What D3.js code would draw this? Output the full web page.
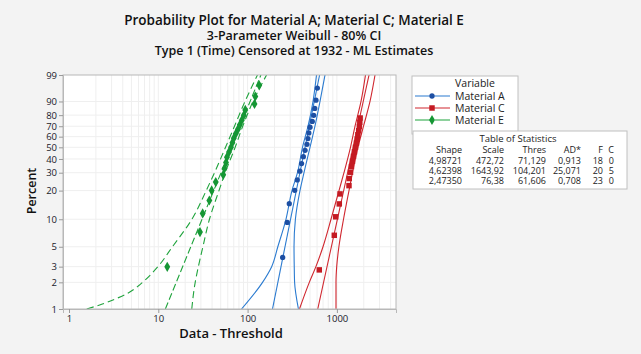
<!DOCTYPE html>
<html><head><meta charset="utf-8">
<script src="https://cdn.jsdelivr.net/npm/d3@7"></script>
<style>
html,body{margin:0;padding:0;background:#f3f3f3;}
svg{display:block;font-family:"Open Sans","Noto Sans",sans-serif;}
</style></head>
<body><svg id="c" width="641" height="354"></svg>
<script>
// ---------- data ----------
const titleLines = ["Probability Plot for Material A; Material C; Material E",
  "3-Parameter Weibull - 80% CI",
  "Type 1 (Time) Censored at 1932 - ML Estimates"];
const seriesNames = ["Material A", "Material C", "Material E"];
const yTicks = [1, 2, 3, 5, 10, 20, 30, 40, 50, 60, 70, 80, 90, 99];
const xTicks = [1, 10, 100, 1000];

// points: data - threshold, plotted percent
const aValues = [247, 278, 293, 337, 360, 385, 402, 421, 440, 462, 474, 485, 500, 530, 550, 565, 583, 604];
const aPercent = [3.80, 9.24, 14.67, 20.11, 25.54, 30.98, 36.41, 41.85, 47.28, 52.72, 58.15, 63.59, 69.02, 74.46, 79.89, 85.33, 90.76, 96.20];
const cValues = [635, 935, 970, 1064, 1084, 1366, 1375, 1420, 1456, 1494, 1533, 1573, 1614, 1656, 1690, 1718, 1754, 1784, 1805, 1822];
const cPercent = [2.76, 6.69, 10.63, 14.57, 18.50, 22.44, 26.38, 30.31, 34.25, 38.19, 42.13, 46.06, 50.00, 53.94, 57.87, 61.81, 65.75, 69.69, 73.62, 77.56];
const eValues = [12.6, 29.3, 31.4, 37.3, 39.6, 44.0, 53.4, 55.1, 57.3, 58.7, 61.9, 65.2, 67.6, 70.1, 73.7, 77.9, 81.9, 86.1, 90.7, 94.2, 119.5, 122, 135];
const ePercent = [2.99, 7.26, 11.54, 15.81, 20.09, 24.36, 28.63, 32.91, 37.18, 41.45, 45.73, 50.00, 54.27, 58.55, 62.82, 67.09, 71.37, 75.64, 79.91, 84.19, 88.46, 92.74, 97.01];

// fitted lines (percent, value) endpoints
const aFitPercent = [1, 99], aFitValues = [190, 640];
const cFitPercent = [1, 99], cFitValues = [610, 2290];
const eFitPercent = [1, 99], eFitValues = [12.0, 141];

// confidence bounds (percent levels, values)
const ciPercent = [1, 2, 3, 5, 10, 20, 30, 50, 70, 90, 99];
const aLower = [85.5, 147, 186, 218, 269, 314, 362, 412, 475, 540, 591];
const aUpper = [371, 336, 333, 331, 343, 386, 428, 500, 568, 647, 736];
const cLower = [381, 491, 582, 699, 859, 1056, 1200, 1420, 1596, 1862, 2090];
const cUpper = [977, 977, 995, 1053, 1186, 1366, 1495, 1722, 1986, 2348, 2672];
const eLowerPercent = [1, 1.13, 1.25, 1.52, 1.82, 2, 3, 5, 10, 20, 30, 50, 70, 90, 99];
const eLower = [1.58, 2.32, 3.01, 4.61, 5.97, 6.67, 9.9, 14.4, 23.8, 34.4, 42.6, 56.6, 71.3, 93.5, 129];
const eUpper = [23.7, 25.9, 28.1, 31.6, 37.4, 47.8, 56.1, 72.6, 88.2, 115, 163];

// statistics table
const statHeaders = ["Shape", "Scale", "Thres", "AD*", "F", "C"];
const statRows = [
  ["4,98721", "472,72", "71,129", "0,913", "18", "0"],
  ["4,62398", "1643,92", "104,201", "25,071", "20", "5"],
  ["2,47350", "76,38", "61,606", "0,708", "23", "0"]];

// ---------- styles ----------
const colors = {A: "#2b7bd0", C: "#d0272f", E: "#1fa33c"};
const markColors = {A: "#1d4fa3", C: "#c41a22", E: "#159634"};

const svg = d3.select("#c");
const L = 63, R = 396, T = 75, B = 309;

const tf = p => Math.log(-Math.log(1 - p / 100));
const x = d3.scaleLog().domain([0.857, 4590]).range([L, R]);
const yl = d3.scaleLinear().domain([tf(1), tf(99)]).range([B, T]);
const y = p => yl(tf(p));

// plot background
svg.append("rect").attr("x", L).attr("y", T).attr("width", R - L).attr("height", B - T).attr("fill", "#fff");

// grid
const g = svg.append("g");
const minor = [];
[1, 10, 100, 1000].forEach(d => { for (let k = 1; k <= 9; k++) { const v = d * k; if (v > 1 && v < 4590) minor.push(v); } });
g.selectAll(".vg").data(minor).enter().append("line")
  .attr("x1", d => x(d)).attr("x2", d => x(d)).attr("y1", T).attr("y2", B)
  .attr("stroke", "#efefef").attr("stroke-width", 1);
g.selectAll(".hg").data(yTicks.slice(1, -1)).enter().append("line")
  .attr("x1", L).attr("x2", R).attr("y1", d => y(d)).attr("y2", d => y(d))
  .attr("stroke", "#efefef").attr("stroke-width", 1);

// clip
svg.append("clipPath").attr("id", "clp").append("rect").attr("x", L).attr("y", T).attr("width", R - L).attr("height", B - T);
const pg = svg.append("g").attr("clip-path", "url(#clp)");

const line = d3.line().x(d => x(d[1])).y(d => y(d[0])).curve(d3.curveMonotoneY);
const zip = (a, b) => a.map((v, i) => [v, b[i]]);

function drawSeries(key, fitP, fitV, lowP, low, upP, up, dash) {
  [[zip(fitP, fitV), dash ? "7,3" : null], [zip(lowP, low), dash ? "7,4" : null], [zip(upP, up), dash ? "7,4" : null]].forEach(([d, da]) => {
    const p = pg.append("path").attr("d", line(d)).attr("stroke", colors[key]).attr("fill", "none").attr("stroke-width", 1.1);
    if (da) p.attr("stroke-dasharray", da);
  });
}
drawSeries("A", aFitPercent, aFitValues, ciPercent, aLower, ciPercent, aUpper, false);
drawSeries("C", cFitPercent, cFitValues, ciPercent, cLower, ciPercent, cUpper, false);
drawSeries("E", eFitPercent, eFitValues, eLowerPercent, eLower, ciPercent, eUpper, true);

// markers
const symA = d3.symbol().type(d3.symbolCircle).size(22);
const symC = d3.symbol().type(d3.symbolSquare).size(30);
const symE = d3.symbol().type(d3.symbolDiamond).size(30);
pg.selectAll(".pa").data(zip(aPercent, aValues)).enter().append("path").attr("d", symA)
  .attr("transform", d => `translate(${x(d[1])},${y(d[0])})`).attr("fill", markColors.A);
pg.selectAll(".pc").data(zip(cPercent, cValues)).enter().append("path").attr("d", symC)
  .attr("transform", d => `translate(${x(d[1])},${y(d[0])})`).attr("fill", markColors.C);
pg.selectAll(".pe").data(zip(ePercent, eValues)).enter().append("path").attr("d", symE)
  .attr("transform", d => `translate(${x(d[1])},${y(d[0])})`).attr("fill", markColors.E);

// frame
svg.append("rect").attr("x", L).attr("y", T).attr("width", R - L).attr("height", B - T)
  .attr("fill", "none").attr("stroke", "#b8b8b8").attr("stroke-width", 1);

// axes
const yAxis = d3.axisLeft(yl).tickValues(yTicks.map(tf)).tickFormat((d, i) => yTicks[i]).tickSize(4).tickPadding(2);
const ya = svg.append("g").attr("transform", `translate(${L},0)`).call(yAxis);
const xAxis = d3.axisBottom(x).tickValues(xTicks).tickFormat(d3.format("d")).tickSize(4).tickPadding(2);
const xa = svg.append("g").attr("transform", `translate(0,${B})`).call(xAxis);
[ya, xa].forEach(a => {
  a.select(".domain").attr("stroke", "#b8b8b8");
  a.selectAll(".tick line").attr("stroke", "#9a9a9a");
  a.selectAll("text").attr("fill", "#1a1a2a").style("font-size", "9.5px").style("font-family", "'Open Sans',sans-serif");
});

// titles
svg.selectAll(".tt").data(titleLines).enter().append("text")
  .attr("x", 294).attr("y", (d, i) => 25 + i * 15).attr("text-anchor", "middle")
  .style("font-size", (d, i) => i === 0 ? "13.5px" : "12.5px").style("font-weight", 600).attr("fill", "#111")
  .text(d => d);
svg.append("text").attr("transform", "translate(36,191) rotate(-90)").attr("text-anchor", "middle")
  .style("font-size", "12.5px").style("font-weight", 600).attr("fill", "#111").text("Percent");
svg.append("text").attr("x", 231).attr("y", 338).attr("text-anchor", "middle")
  .style("font-size", "13px").style("font-weight", 600).attr("fill", "#111").text("Data - Threshold");

// legend
const lg = svg.append("g");
lg.append("rect").attr("x", 412).attr("y", 76).attr("width", 106).attr("height", 58).attr("fill", "#fff").attr("stroke", "#c0c0c0");
lg.append("text").attr("x", 475).attr("y", 87).attr("text-anchor", "middle").style("font-size", "10.5px").attr("fill", "#222").text("Variable");
const keys = ["A", "C", "E"], syms = [symA, symC, symE];
seriesNames.forEach((n, i) => {
  const yy = 96 + i * 12;
  const ln = lg.append("line").attr("x1", 415).attr("x2", 450).attr("y1", yy).attr("y2", yy).attr("stroke", colors[keys[i]]).attr("stroke-width", 1.2);
  if (keys[i] === "E") ln.attr("stroke-dasharray", "16,4,12,0");
  lg.append("path").attr("d", syms[i]).attr("transform", `translate(432,${yy})`).attr("fill", markColors[keys[i]]);
  lg.append("text").attr("x", 455).attr("y", yy + 4).style("font-size", "10.5px").attr("fill", "#222").text(n);
});

// table
const tb = svg.append("g");
tb.append("rect").attr("x", 413).attr("y", 131).attr("width", 214).attr("height", 58).attr("fill", "#fff").attr("stroke", "#c0c0c0");
tb.append("text").attr("x", 518).attr("y", 141.5).attr("text-anchor", "middle").style("font-size", "9.5px").attr("fill", "#222").text("Table of Statistics");
const colRight = [462, 504, 546, 581, 603, 614];
statHeaders.forEach((h, j) => tb.append("text").attr("x", colRight[j]).attr("y", 153).attr("text-anchor", "end").style("font-size", "9px").attr("fill", "#222").text(h));
statRows.forEach((r, i) => r.forEach((v, j) => tb.append("text").attr("x", colRight[j]).attr("y", 164 + i * 10).attr("text-anchor", "end").style("font-size", "9px").attr("fill", "#222").text(v)));
</script></body></html>
